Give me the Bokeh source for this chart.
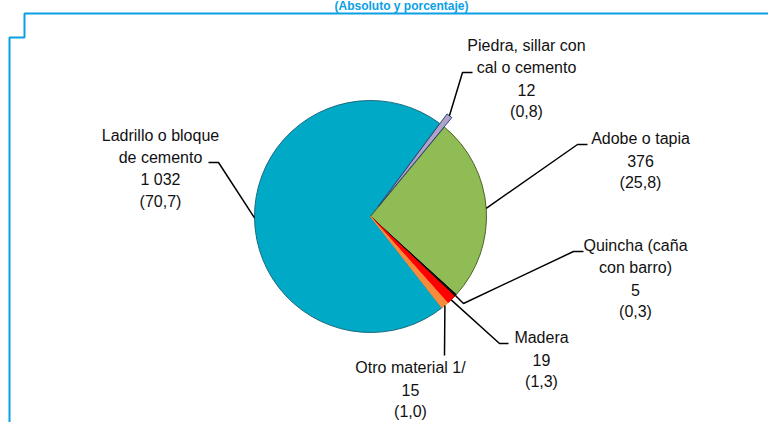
import numpy as np
from bokeh.plotting import figure
from bokeh.models import Range1d
from bokeh.core.properties import value
from bokeh.embed import file_html
from bokeh.resources import INLINE

# ---- data ----
title_line = "(Absoluto y porcentaje)"
categories = ["Piedra, sillar con cal o cemento", "Adobe o tapia",
              "Quincha (caña con barro)", "Madera", "Otro material 1/",
              "Ladrillo o bloque de cemento"]
label_lines = [["Piedra, sillar con", "cal o cemento"], ["Adobe o tapia"],
               ["Quincha (caña", "con barro)"], ["Madera"], ["Otro material 1/"],
               ["Ladrillo o bloque", "de cemento"]]
counts = [12, 376, 5, 19, 15, 1032]
percents = ["0,8", "25,8", "0,3", "1,3", "1,0", "70,7"]

# ---- styles / layout ----
fill_colors = ["#b3a2c7", "#8fbc54", "#111111", "#ff0000", "#f68b3c", "#00a9c6"]
edge_colors = ["#1f497d", "#4f6228", "#000000", "#ff0000", "#f68b3c", "#1d6a80"]
explode = [12, 0, 0, 0, 0, 0]
# leader-line elbows and label positions (page pixels)
elbows = [[(462, 72), (472, 72)], [(577, 144), (587, 144)],
          [(463, 303), (573, 251), (583, 251)], [(499, 343), (508, 343)],
          [(444, 355)], [(218, 162), (208, 162)]]
label_pos = [(526, 45), (640, 138), (635, 245), (541, 337), (410, 367), (160, 135)]
line_step = 22

W, H = 768, 422
def PX(x): return x
def PY(y): return H - y

cx, cy, R = 370, 216, 116
start_cw = 36.6  # degrees clockwise from 12 o'clock

p = figure(width=W, height=H, x_range=Range1d(0, W), y_range=Range1d(0, H),
           output_backend="svg", toolbar_location=None, min_border=0,
           x_axis_location=None, y_axis_location=None)
p.grid.visible = False
p.outline_line_color = None
p.background_fill_color = "white"

blue = "#0aa0e4"
# second line of the title (kept small so it fits above the frame)
p.text(x=[PX(401)], y=[PY(5.5)], text=[title_line], text_align="center",
       text_baseline="middle", text_font=value("Liberation Sans"),
       text_font_size="12px", text_font_style="bold", text_color=blue)

# frame (blue bracket)
p.line([PX(9), PX(9), PX(24), PX(24), PX(776)],
       [PY(422), PY(37), PY(37), PY(13), PY(13)], line_color=blue, line_width=2)

counts_arr = np.array(counts, dtype=float)
frac = counts_arr / counts_arr.sum()
cum = np.concatenate([[0], np.cumsum(frac)[:-1]])
th0 = start_cw + 360 * cum
th1 = th0 + 360 * frac
mid = (th0 + th1) / 2

order = [5, 1, 2, 3, 4, 0]
xs, ys, sa, ea, fc, lc = [], [], [], [], [], []
for i in order:
    m = np.radians(mid[i])
    xs.append(PX(cx + explode[i] * np.sin(m)))
    ys.append(PY(cy - explode[i] * np.cos(m)))
    sa.append(90 - th0[i])
    ea.append(90 - th1[i])
    fc.append(fill_colors[i])
    lc.append(edge_colors[i])
p.wedge(x=xs, y=ys, radius=R, radius_units="screen", start_angle=sa, end_angle=ea,
        start_angle_units="deg", end_angle_units="deg", direction="clock",
        fill_color=fc, line_color=lc, line_width=1)

# leader lines and labels
font = value("Liberation Sans")
for i in range(len(counts)):
    m = np.radians(mid[i])
    rr = R + explode[i]
    sx, sy = cx + rr * np.sin(m), cy - rr * np.cos(m)
    pts = [(sx, sy)] + elbows[i]
    p.line([PX(a) for a, b in pts], [PY(b) for a, b in pts], line_color="black", line_width=1.5)
    lines = label_lines[i] + [f"{counts[i]:,}".replace(",", " "), f"({percents[i]})"]
    lx, ly = label_pos[i]
    p.text(x=[PX(lx)] * len(lines), y=[PY(ly + k * line_step) for k in range(len(lines))],
           text=lines, text_align="center", text_baseline="middle",
           text_font=font, text_font_size="16px", text_color="#111111")

open("out.html", "w").write(file_html(p, INLINE))
